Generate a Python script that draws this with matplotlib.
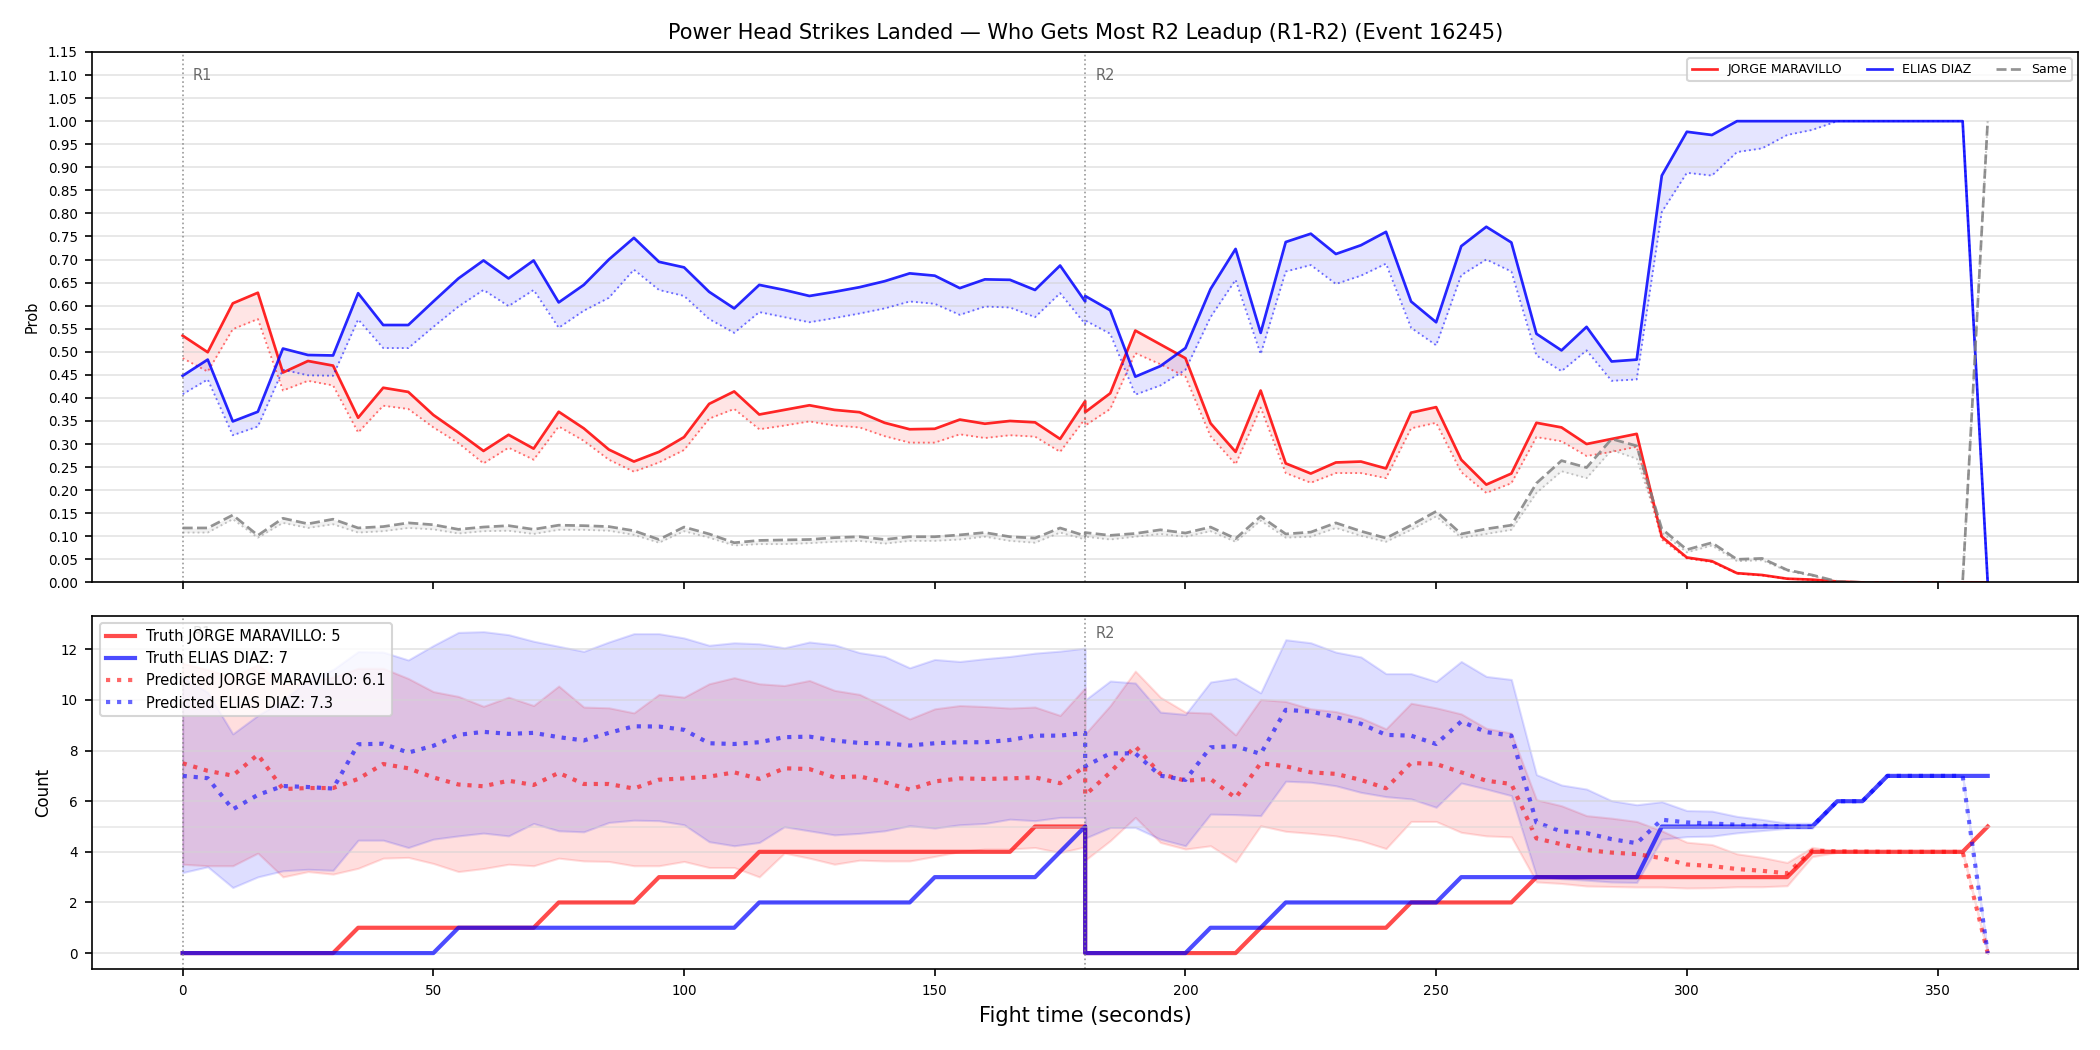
"""Head strike win-probability and count chart, R1-R2 leadup."""

import matplotlib

matplotlib.use("Agg")
import matplotlib.pyplot as plt
import numpy as np

# time grid: round 1 (0-180) then round 2 (180-360), 5 s steps
time_r1 = np.arange(0, 181, 5)
time_r2 = np.arange(180, 361, 5)
time = np.concatenate([time_r1, time_r2])

round_starts = [0, 180]
round_labels = ["R1", "R2"]

fighter_a = "JORGE MARAVILLO"
fighter_b = "ELIAS DIAZ"

# --- top panel: probability of "who gets most" ---
prob_a = [
    0.535, 0.499, 0.605, 0.628, 0.455, 0.480, 0.470, 0.357, 0.422, 0.413,
    0.363, 0.325, 0.285, 0.320, 0.290, 0.370, 0.334, 0.288, 0.262, 0.283,
    0.315, 0.387, 0.414, 0.364, 0.374, 0.384, 0.374, 0.369, 0.346, 0.332,
    0.333, 0.353, 0.344, 0.350, 0.347, 0.311, 0.393,
    0.369, 0.410, 0.546, 0.516, 0.486, 0.345, 0.283, 0.416, 0.258, 0.236,
    0.260, 0.262, 0.247, 0.368, 0.380, 0.266, 0.212, 0.236, 0.346, 0.336,
    0.300, 0.311, 0.322, 0.099, 0.054, 0.046, 0.020, 0.016, 0.008, 0.006,
    0.002, 0.0, 0.0, 0.0, 0.0, 0.0, 0.0,
]
prob_a_norm = [
    0.486, 0.457, 0.549, 0.571, 0.416, 0.437, 0.427, 0.325, 0.383, 0.376,
    0.336, 0.302, 0.258, 0.292, 0.266, 0.338, 0.307, 0.266, 0.240, 0.260,
    0.287, 0.355, 0.376, 0.332, 0.340, 0.349, 0.340, 0.336, 0.317, 0.303,
    0.303, 0.321, 0.313, 0.319, 0.316, 0.283, 0.355,
    0.340, 0.376, 0.497, 0.473, 0.446, 0.317, 0.256, 0.379, 0.237, 0.216,
    0.237, 0.237, 0.226, 0.334, 0.346, 0.239, 0.194, 0.215, 0.315, 0.306,
    0.274, 0.283, 0.294, 0.093, 0.052, 0.044, 0.019, 0.015, 0.008, 0.005,
    0.001, 0.0, 0.0, 0.0, 0.0, 0.0, 0.0,
]
prob_b = [
    0.448, 0.483, 0.349, 0.370, 0.507, 0.493, 0.492, 0.627, 0.558, 0.558,
    0.609, 0.659, 0.698, 0.659, 0.698, 0.607, 0.645, 0.700, 0.747, 0.695,
    0.683, 0.630, 0.594, 0.645, 0.634, 0.621, 0.630, 0.640, 0.653, 0.670,
    0.665, 0.638, 0.657, 0.656, 0.634, 0.687, 0.609,
    0.621, 0.590, 0.446, 0.469, 0.508, 0.636, 0.723, 0.541, 0.738, 0.756,
    0.712, 0.731, 0.760, 0.609, 0.564, 0.729, 0.771, 0.737, 0.539, 0.503,
    0.554, 0.479, 0.483, 0.882, 0.977, 0.970, 1.0, 1.0, 1.0, 1.0,
    1.0, 1.0, 1.0, 1.0, 1.0, 1.0, 0.0,
]
prob_b_norm = [
    0.408, 0.440, 0.319, 0.338, 0.461, 0.449, 0.448, 0.570, 0.508, 0.508,
    0.554, 0.598, 0.634, 0.599, 0.634, 0.552, 0.589, 0.617, 0.678, 0.634,
    0.621, 0.571, 0.541, 0.586, 0.575, 0.564, 0.573, 0.583, 0.594, 0.609,
    0.604, 0.580, 0.598, 0.596, 0.575, 0.627, 0.560,
    0.568, 0.539, 0.407, 0.427, 0.461, 0.575, 0.656, 0.495, 0.674, 0.688,
    0.647, 0.665, 0.691, 0.552, 0.514, 0.666, 0.700, 0.674, 0.492, 0.458,
    0.503, 0.437, 0.440, 0.803, 0.888, 0.882, 0.933, 0.941, 0.970, 0.981,
    1.0, 1.0, 1.0, 1.0, 1.0, 1.0, 0.0,
]
prob_same = [
    0.118, 0.118, 0.146, 0.102, 0.139, 0.127, 0.137, 0.118, 0.121, 0.129,
    0.125, 0.115, 0.120, 0.123, 0.115, 0.124, 0.123, 0.121, 0.112, 0.093,
    0.120, 0.105, 0.086, 0.091, 0.092, 0.093, 0.097, 0.099, 0.093, 0.099,
    0.099, 0.103, 0.108, 0.099, 0.096, 0.118, 0.101,
    0.108, 0.102, 0.106, 0.114, 0.107, 0.120, 0.095, 0.143, 0.105, 0.109,
    0.129, 0.111, 0.096, 0.124, 0.154, 0.105, 0.116, 0.124, 0.215, 0.264,
    0.249, 0.311, 0.296, 0.116, 0.071, 0.086, 0.050, 0.052, 0.027, 0.016,
    0.002, 0.0, 0.0, 0.0, 0.0, 0.0, 1.0,
]
prob_same_norm = [
    0.108, 0.108, 0.137, 0.097, 0.129, 0.118, 0.126, 0.108, 0.111, 0.118,
    0.115, 0.106, 0.111, 0.112, 0.105, 0.114, 0.114, 0.112, 0.103, 0.086,
    0.111, 0.097, 0.080, 0.083, 0.083, 0.085, 0.088, 0.090, 0.084, 0.090,
    0.090, 0.093, 0.099, 0.090, 0.086, 0.108, 0.093,
    0.099, 0.093, 0.099, 0.105, 0.099, 0.111, 0.088, 0.134, 0.097, 0.099,
    0.118, 0.101, 0.088, 0.114, 0.143, 0.097, 0.105, 0.114, 0.194, 0.241,
    0.226, 0.287, 0.268, 0.108, 0.065, 0.080, 0.046, 0.048, 0.025, 0.014,
    0.002, 0.0, 0.0, 0.0, 0.0, 0.0, 1.0,
]

# --- bottom panel: cumulative counts ---
truth_a = [
    0, 0, 0, 0, 0, 0, 0, 1, 1, 1, 1, 1, 1, 1, 1, 2, 2, 2, 2, 3,
    3, 3, 3, 4, 4, 4, 4, 4, 4, 4, 4, 4, 4, 4, 5, 5, 5,
    0, 0, 0, 0, 0, 0, 0, 1, 1, 1, 1, 1, 1, 2, 2, 2, 2, 2, 3, 3,
    3, 3, 3, 3, 3, 3, 3, 3, 3, 4, 4, 4, 4, 4, 4, 4, 5,
]
truth_b = [
    0, 0, 0, 0, 0, 0, 0, 0, 0, 0, 0, 1, 1, 1, 1, 1, 1, 1, 1, 1,
    1, 1, 1, 2, 2, 2, 2, 2, 2, 2, 3, 3, 3, 3, 3, 4, 5,
    0, 0, 0, 0, 0, 1, 1, 1, 2, 2, 2, 2, 2, 2, 2, 3, 3, 3, 3, 3,
    3, 3, 3, 5, 5, 5, 5, 5, 5, 5, 6, 6, 7, 7, 7, 7, 7,
]
pred_a = [
    7.50, 7.20, 7.01, 7.84, 6.48, 6.52, 6.52, 6.88, 7.47, 7.30,
    6.94, 6.66, 6.59, 6.81, 6.64, 7.12, 6.68, 6.68, 6.50, 6.85,
    6.90, 6.97, 7.14, 6.88, 7.30, 7.27, 6.94, 6.98, 6.75, 6.46,
    6.78, 6.90, 6.88, 6.90, 6.94, 6.71, 7.37,
    6.24, 7.14, 8.17, 7.08, 6.81, 6.88, 6.13, 7.50, 7.38, 7.14,
    7.08, 6.84, 6.51, 7.51, 7.47, 7.14, 6.81, 6.68, 4.53, 4.30,
    4.07, 3.97, 3.91, 3.75, 3.50, 3.44, 3.32, 3.25, 3.15, 4.05,
    4.02, 4.01, 4.00, 4.00, 4.00, 4.00, 0.0,
]
pred_b = [
    7.00, 6.91, 5.68, 6.25, 6.60, 6.56, 6.50, 8.25, 8.27, 7.92,
    8.19, 8.62, 8.74, 8.66, 8.70, 8.53, 8.40, 8.70, 8.96, 8.95,
    8.82, 8.29, 8.26, 8.33, 8.53, 8.55, 8.40, 8.30, 8.29, 8.20,
    8.29, 8.33, 8.33, 8.42, 8.59, 8.59, 8.70,
    7.38, 7.89, 7.89, 7.01, 6.84, 8.13, 8.17, 7.87, 9.61, 9.54,
    9.32, 9.06, 8.62, 8.59, 8.26, 9.15, 8.73, 8.59, 5.16, 4.81,
    4.74, 4.50, 4.34, 5.27, 5.16, 5.12, 5.07, 5.03, 5.00, 5.00,
    6.00, 6.00, 7.00, 7.00, 7.00, 7.00, 0.0,
]
pred_a_hi = [
    11.45, 11.20, 10.90, 11.40, 10.60, 10.70, 10.90, 11.25, 11.25, 10.85,
    10.33, 10.14, 9.75, 10.11, 9.78, 10.55, 9.72, 9.69, 9.49, 10.22,
    10.11, 10.64, 10.88, 10.64, 10.57, 10.77, 10.38, 10.22, 9.74, 9.25,
    9.65, 9.78, 9.74, 9.68, 9.72, 9.39, 10.48,
    8.66, 9.78, 11.14, 10.11, 9.52, 9.48, 8.62, 10.02, 9.94, 9.65,
    9.54, 9.29, 8.86, 9.87, 9.69, 9.45, 8.88, 8.69, 6.06, 5.82,
    5.43, 5.33, 5.20, 4.83, 4.38, 4.29, 3.92, 3.78, 3.58, 4.18,
    4.02, 4.01, 4.00, 4.00, 4.00, 4.00, 0.0,
]
pred_a_lo = [
    3.51, 3.45, 3.45, 3.95, 3.01, 3.22, 3.12, 3.35, 3.75, 3.78,
    3.54, 3.22, 3.34, 3.51, 3.45, 3.75, 3.64, 3.62, 3.45, 3.45,
    3.62, 3.38, 3.38, 3.01, 3.95, 3.75, 3.51, 3.67, 3.64, 3.64,
    3.82, 4.01, 4.11, 4.11, 4.17, 3.97, 4.20,
    3.67, 4.44, 5.36, 4.37, 4.11, 4.24, 3.60, 5.03, 4.81, 4.73,
    4.63, 4.44, 4.13, 5.20, 5.20, 4.77, 4.63, 4.59, 2.81, 2.75,
    2.65, 2.63, 2.61, 2.61, 2.57, 2.58, 2.62, 2.62, 2.66, 3.81,
    3.98, 4.00, 4.00, 4.00, 4.00, 4.00, 0.0,
]
pred_b_hi = [
    10.90, 10.30, 8.66, 9.39, 9.98, 10.77, 11.20, 11.91, 11.89, 11.58,
    12.15, 12.67, 12.70, 12.58, 12.32, 12.12, 11.92, 12.29, 12.62, 12.62,
    12.45, 12.16, 12.26, 12.22, 12.06, 12.29, 12.18, 11.87, 11.72, 11.27,
    11.60, 11.52, 11.63, 11.72, 11.85, 11.93, 12.05,
    10.00, 10.75, 10.67, 9.52, 9.43, 10.71, 10.86, 10.28, 12.38, 12.26,
    11.89, 11.70, 11.04, 11.04, 10.73, 11.52, 10.93, 10.81, 7.05, 6.64,
    6.48, 6.02, 5.86, 5.98, 5.63, 5.61, 5.40, 5.28, 5.13, 5.13,
    6.00, 6.00, 7.00, 7.00, 7.00, 7.00, 0.0,
]
pred_b_lo = [
    3.18, 3.41, 2.59, 3.01, 3.25, 3.31, 3.27, 4.46, 4.46, 4.17,
    4.50, 4.63, 4.74, 4.63, 5.12, 4.83, 4.79, 5.16, 5.25, 5.23,
    5.07, 4.40, 4.24, 4.37, 4.99, 4.83, 4.67, 4.73, 4.83, 5.03,
    4.94, 5.07, 5.12, 5.29, 5.23, 5.36, 5.36,
    4.54, 4.96, 4.96, 4.50, 4.24, 5.49, 5.47, 5.43, 6.79, 6.75,
    6.61, 6.35, 6.18, 6.09, 5.76, 6.72, 6.48, 6.22, 3.05, 2.94,
    2.88, 2.81, 2.79, 4.50, 4.60, 4.62, 4.75, 4.84, 4.93, 4.93,
    6.00, 6.00, 7.00, 7.00, 7.00, 7.00, 0.0,
]

final_truth = [5, 7]
final_pred = [6.1, 7.3]


def mark_rounds(ax):
    for start, label in zip(round_starts, round_labels):
        ax.axvline(start, color="gray", linestyle=":", linewidth=0.8, alpha=0.8)
        ax.text(start + 2, 0.97, label, transform=ax.get_xaxis_transform(),
                ha="left", va="top", fontsize=7, color="dimgray")


fig, (ax1, ax2) = plt.subplots(
    2, 1, figsize=(14, 7), dpi=150, sharex=True,
    gridspec_kw={"height_ratios": [3, 2]},
)
fig.subplots_adjust(left=0.044, right=0.9895, top=0.9505, bottom=0.077, hspace=0.075)

# top panel
ax1.plot(time, prob_a, color="red", linewidth=1.3, alpha=0.85, label=fighter_a)
ax1.plot(time, prob_a_norm, color="red", linestyle=":", linewidth=0.9, alpha=0.55)
ax1.fill_between(time, prob_a_norm, prob_a, color="red", alpha=0.1, linewidth=0)
ax1.plot(time, prob_b, color="blue", linewidth=1.3, alpha=0.85, label=fighter_b)
ax1.plot(time, prob_b_norm, color="blue", linestyle=":", linewidth=0.9, alpha=0.55)
ax1.fill_between(time, prob_b_norm, prob_b, color="blue", alpha=0.1, linewidth=0)
ax1.plot(time, prob_same, color="gray", linestyle="--", linewidth=1.3, alpha=0.85,
         label="Same")
ax1.plot(time, prob_same_norm, color="gray", linestyle=":", linewidth=0.9, alpha=0.45)
ax1.fill_between(time, prob_same_norm, prob_same, color="gray", alpha=0.1, linewidth=0)
mark_rounds(ax1)
ax1.set_ylim(0, 1.15)
ax1.set_yticks(np.arange(0, 1.151, 0.05))
ax1.yaxis.set_major_formatter(matplotlib.ticker.FormatStrFormatter("%.2f"))
ax1.set_ylabel("Prob", fontsize=7)
ax1.grid(axis="y", color="lightgray", alpha=0.6, linewidth=0.8)
ax1.tick_params(labelsize=6.5)
ax1.legend(loc="upper right", ncol=3, fontsize=6)
ax1.set_title(
    "Power Head Strikes Landed — Who Gets Most R2 Leadup (R1-R2) (Event 16245)",
    fontsize=10,
)

# bottom panel
ax2.fill_between(time, pred_a_lo, pred_a_hi, color="red", alpha=0.13)
ax2.fill_between(time, pred_b_lo, pred_b_hi, color="blue", alpha=0.13)
ax2.plot(time, truth_a, color="red", linewidth=2, alpha=0.7,
         label=f"Truth {fighter_a}: {final_truth[0]}")
ax2.plot(time, truth_b, color="blue", linewidth=2, alpha=0.7,
         label=f"Truth {fighter_b}: {final_truth[1]}")
ax2.plot(time, pred_a, color="red", linestyle=":", linewidth=2, alpha=0.6,
         label=f"Predicted {fighter_a}: {final_pred[0]}")
ax2.plot(time, pred_b, color="blue", linestyle=":", linewidth=2, alpha=0.6,
         label=f"Predicted {fighter_b}: {final_pred[1]}")
ax2.axhline(5, color="lightgray", alpha=0.5, linewidth=0.8)
mark_rounds(ax2)
ax2.set_ylabel("Count", fontsize=8)
ax2.set_xlabel("Fight time (seconds)", fontsize=10)
ax2.grid(axis="y", color="lightgray", alpha=0.6, linewidth=0.8)
ax2.tick_params(labelsize=6.5)
ax2.legend(loc="upper left", fontsize=7)

fig.savefig("out.png", dpi=150)
